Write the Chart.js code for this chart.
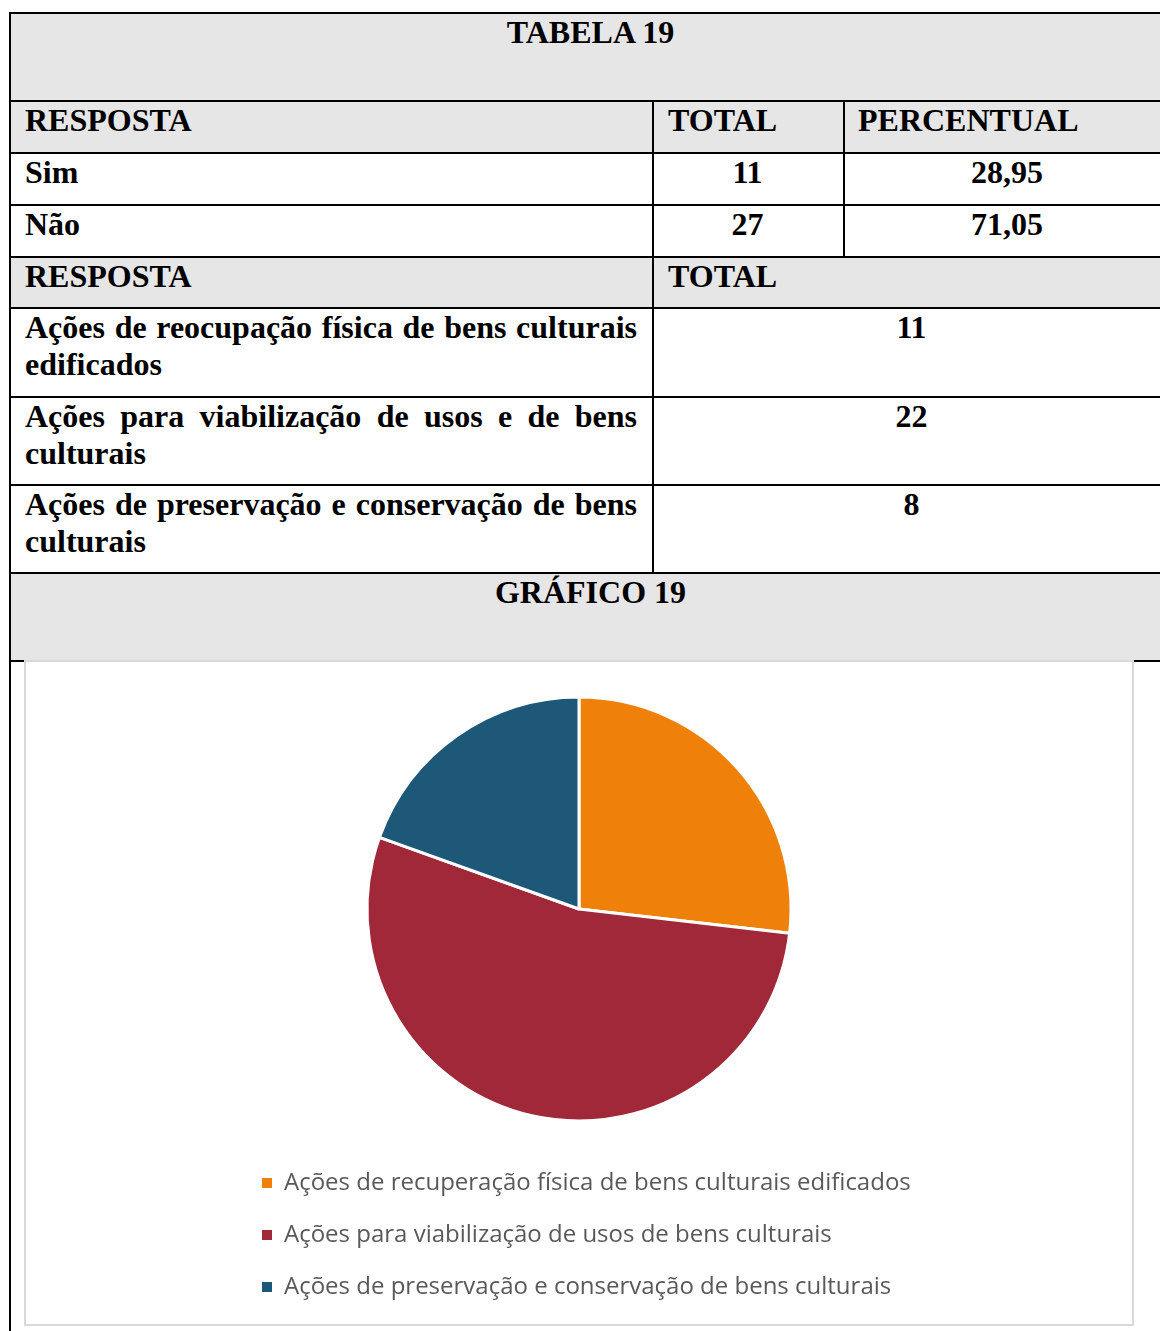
<!DOCTYPE html>
<html lang="pt-BR">
<head>
<meta charset="utf-8">
<title>Tabela 19 / Gráfico 19</title>
<script src="https://cdn.jsdelivr.net/npm/chart.js@4.4.1/dist/chart.umd.min.js"></script>
<style>
  html, body { margin:0; padding:0; background:#fff; }
  body { width:1160px; height:1331px; overflow:hidden; position:relative; }
  .fill { position:absolute; background:#e7e6e6; }
  .hl, .vl { position:absolute; background:#000; }
  .cell { position:absolute; font-family:"Liberation Serif","Times New Roman",serif; font-weight:bold;
          font-size:32px; line-height:37px; color:#000; white-space:nowrap; }
  .just { white-space:normal; text-align:justify; }
  .center { text-align:center; }
  #box { position:absolute; left:24px; top:660px; width:1106px; height:662px; border:2px solid #d9d9d9; background:#fff; }
  #chartWrap { position:absolute; }
</style>
</head>
<body>
<div id="page"></div>
<div id="box"></div>
<div id="chartWrap"><canvas id="pie"></canvas></div>
<script>
// ---------- data ----------
const tituloTabela = 'TABELA 19';
const tituloGrafico = 'GRÁFICO 19';
const cabecalho1 = ['RESPOSTA', 'TOTAL', 'PERCENTUAL'];
const respostasSimNao = ['Sim', 'Não'];
const totaisSimNao = [11, 27];
const percentuaisSimNao = ['28,95', '71,05'];
const cabecalho2 = ['RESPOSTA', 'TOTAL'];
const acoesTabela = [
  'Ações de reocupação física de bens culturais edificados',
  'Ações para viabilização de usos e de bens culturais',
  'Ações de preservação e conservação de bens culturais'
];
const acoesTotais = [11, 22, 8];
const legendaCategorias = [
  'Ações de recuperação física de bens culturais edificados',
  'Ações para viabilização de usos de bens culturais',
  'Ações de preservação e conservação de bens culturais'
];
const valoresGrafico = [11, 22, 8];
const coresFatias = ['#ef8009', '#a12838', '#1e5878'];

// ---------- table layout ----------
const page = document.getElementById('page');
const X0 = 10, X1 = 652, X2 = 843, XR = 1171;
const rowsY = [12, 100, 152, 204, 256, 307, 396, 484, 572, 660];
function el(cls, css, text) {
  const d = document.createElement('div');
  d.className = cls;
  Object.assign(d.style, css);
  if (text !== undefined) d.textContent = text;
  page.appendChild(d);
  return d;
}
// gray fills
[[0,1],[1,2],[4,5],[8,9]].forEach(([a,b]) => {
  el('fill', {left:X0+'px', top:rowsY[a]+'px', width:(XR-X0)+'px', height:(rowsY[b]-rowsY[a])+'px'});
});
// horizontal lines
rowsY.forEach(y => el('hl', {left:X0+'px', top:y+'px', width:(XR-X0)+'px', height:'2px'}));
// vertical lines
el('vl', {left:'9px', top:'12px', width:'2px', height:(1331-12)+'px'});
el('vl', {left:(X1)+'px', top:rowsY[1]+'px', width:'2px', height:(rowsY[8]-rowsY[1])+'px'});
el('vl', {left:(X2)+'px', top:rowsY[1]+'px', width:'2px', height:(rowsY[4]-rowsY[1])+'px'});

function textCell(rowTop, left, width, txt, extra) {
  return el('cell' + (extra ? ' ' + extra : ''), {left:left+'px', top:(rowTop+2)+'px', width:width+'px'}, txt);
}
textCell(rowsY[0], X0, XR-X0, tituloTabela, 'center');
textCell(rowsY[1], 25, 600, cabecalho1[0]);
textCell(rowsY[1], 668, 170, cabecalho1[1]);
textCell(rowsY[1], 858, 300, cabecalho1[2]);
respostasSimNao.forEach((r, i) => {
  const top = rowsY[2 + i];
  textCell(top, 25, 600, r);
  textCell(top, X1, X2-X1, String(totaisSimNao[i]), 'center');
  textCell(top, X2, XR-X2, percentuaisSimNao[i], 'center');
});
textCell(rowsY[4], 25, 600, cabecalho2[0]);
textCell(rowsY[4], 668, 300, cabecalho2[1]);
acoesTabela.forEach((a, i) => {
  const top = rowsY[5 + i];
  textCell(top, 25, 612, a, 'just');
  textCell(top, X1, XR-X1, String(acoesTotais[i]), 'center');
});
textCell(rowsY[8], X0, XR-X0, tituloGrafico, 'center');

// ---------- chart ----------
const legendFont = '"Open Sans", "Noto Sans", sans-serif';
const mctx = document.createElement('canvas').getContext('2d');
mctx.font = '20px ' + legendFont;
const w20 = mctx.measureText(legendaCategorias[0]).width;
const fs = Math.round(20 * 628 / w20 * 10) / 10;
const rowStep = 52;
const lpad = rowStep - fs;
const cx = 579, cy = 909, R = 212;
const firstRowCenter = 1183;
const legendTop = firstRowCenter - lpad - fs / 2;
const legendHeight = 3 * rowStep + 10;
const canvasTop = 2 * cy - legendTop;
const canvasBottom = legendTop + legendHeight;
const canvasLeft = 262 - lpad;
const canvasRight = 2 * cx - canvasLeft;

const wrap = document.getElementById('chartWrap');
Object.assign(wrap.style, {
  left: canvasLeft + 'px', top: canvasTop + 'px',
  width: (canvasRight - canvasLeft) + 'px', height: (canvasBottom - canvasTop) + 'px'
});

new Chart(document.getElementById('pie'), {
  type: 'pie',
  data: {
    labels: legendaCategorias,
    datasets: [{
      data: valoresGrafico,
      backgroundColor: coresFatias,
      borderColor: '#ffffff',
      borderWidth: 3
    }]
  },
  options: {
    responsive: true,
    maintainAspectRatio: false,
    animation: false,
    radius: R,
    layout: { padding: 0 },
    plugins: {
      tooltip: { enabled: false },
      legend: {
        position: 'bottom',
        align: 'start',
        labels: {
          boxWidth: 10,
          boxHeight: 10,
          padding: lpad,
          color: '#595959',
          font: { family: legendFont, size: fs },
          generateLabels: () => legendaCategorias.map((t, i) => ({
            text: t, fillStyle: coresFatias[i], strokeStyle: coresFatias[i],
            lineWidth: 0, hidden: false, index: i, fontColor: '#595959'
          }))
        }
      }
    }
  }
});
</script>
</body>
</html>
